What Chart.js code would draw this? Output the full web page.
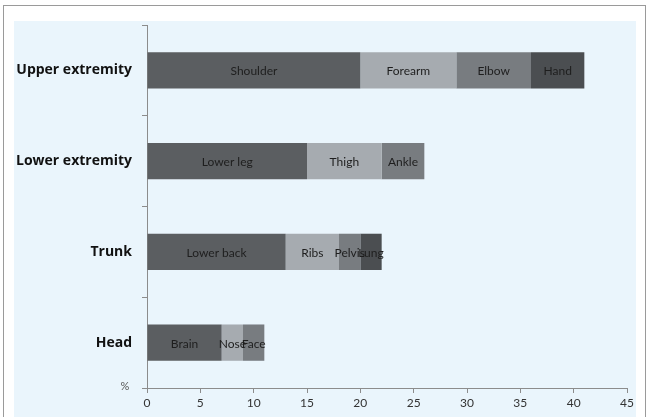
<!DOCTYPE html>
<html>
<head>
<meta charset="utf-8">
<script src="https://cdn.jsdelivr.net/npm/chart.js@4/dist/chart.umd.min.js"></script>
<style>
  html, body { margin: 0; padding: 0; background: #fff; }
  #wrap { width: 646px; height: 417px; position: relative; }
</style>
</head>
<body>
<div id="wrap"><canvas id="injuryChart"></canvas></div>
<script>
// body regions and the share (%) of each injured part, stacked left to right
const categories = ['Upper extremity', 'Lower extremity', 'Trunk', 'Head'];

const part1Values = [20, 15, 13, 7];
const part1Names = ['Shoulder', 'Lower leg', 'Lower back', 'Brain'];

const part2Values = [9, 7, 5, 2];
const part2Names = ['Forearm', 'Thigh', 'Ribs', 'Nose'];

const part3Values = [7, 4, 2, 2];
const part3Names = ['Elbow', 'Ankle', 'Pelvis', 'Face'];

const part4Values = [5, null, 2, null];
const part4Names = ['Hand', '', 'Lung', ''];

const xTickMin = 0;
const xTickMax = 45;
const xTickStep = 5;
const unitLabel = '%';

const segmentNames = [part1Names, part2Names, part3Names, part4Names];

// background: white frame with a light blue plot panel
const backgroundPlugin = {
    id: 'panel',
    beforeDraw(chart) {
        const c = chart.ctx;
        c.save();
        c.fillStyle = '#ffffff';
        c.fillRect(0, 0, chart.width, chart.height);
        c.strokeStyle = '#9a9a9a';
        c.lineWidth = 1;
        c.strokeRect(3.5, 5.5, chart.width - 4, chart.height);
        c.fillStyle = '#eaf5fc';
        c.fillRect(14, 21, 622, chart.height - 21);
        c.restore();
    }
};

// part names written inside each bar segment, plus the unit at the axis corner
const labelPlugin = {
    id: 'segmentLabels',
    afterDatasetsDraw(chart) {
        const c = chart.ctx;
        c.save();
        c.font = '12px Lato, sans-serif';
        c.fillStyle = '#1e1e1e';
        c.textAlign = 'center';
        c.textBaseline = 'middle';
        chart.data.datasets.forEach((ds, i) => {
            const meta = chart.getDatasetMeta(i);
            meta.data.forEach((bar, j) => {
                const name = segmentNames[i][j];
                if (!name || ds.data[j] == null) return;
                const props = bar.getProps(['x', 'y', 'base'], true);
                c.fillText(name, (props.x + props.base) / 2, props.y + 1);
            });
        });
        const area = chart.chartArea;
        c.font = '11px Lato, sans-serif';
        c.fillStyle = '#555';
        c.textAlign = 'center';
        c.fillText(unitLabel, area.left - 22, area.bottom - 2);
        c.restore();
    }
};

const ctx = document.getElementById('injuryChart');

new Chart(ctx, {
    type: 'bar',
    data: {
        labels: categories,
        datasets: [
            { label: 'Part 1', data: part1Values, backgroundColor: '#5b5e61' },
            { label: 'Part 2', data: part2Values, backgroundColor: '#a6abb0' },
            { label: 'Part 3', data: part3Values, backgroundColor: '#787c80' },
            { label: 'Part 4', data: part4Values, backgroundColor: '#4b4e51' }
        ]
    },
    options: {
        indexAxis: 'y',
        responsive: true,
        maintainAspectRatio: false,
        animation: false,
        datasets: {
            bar: {
                barPercentage: 0.4,
                categoryPercentage: 1,
                borderWidth: 0
            }
        },
        layout: {
            padding: { left: 0, top: 25, right: 19, bottom: 0 }
        },
        plugins: {
            legend: { display: false },
            tooltip: { enabled: false }
        },
        scales: {
            x: {
                stacked: true,
                min: xTickMin,
                max: xTickMax,
                ticks: {
                    stepSize: xTickStep,
                    color: '#333',
                    padding: 3,
                    font: { family: 'Lato, sans-serif', size: 12 }
                },
                grid: {
                    drawOnChartArea: false,
                    drawTicks: true,
                    tickLength: 5,
                    color: '#8c8c8c'
                },
                border: { color: '#8c8c8c' },
                afterFit(scale) { scale.height = 29; }
            },
            y: {
                stacked: true,
                ticks: {
                    color: '#111',
                    padding: 10,
                    font: { family: '"Open Sans", sans-serif', size: 14, weight: 'bold' }
                },
                grid: {
                    drawOnChartArea: false,
                    drawTicks: true,
                    tickLength: 5,
                    color: '#8c8c8c'
                },
                border: { color: '#8c8c8c' },
                afterFit(scale) { scale.width = 147; }
            }
        }
    },
    plugins: [backgroundPlugin, labelPlugin]
});
</script>
</body>
</html>
